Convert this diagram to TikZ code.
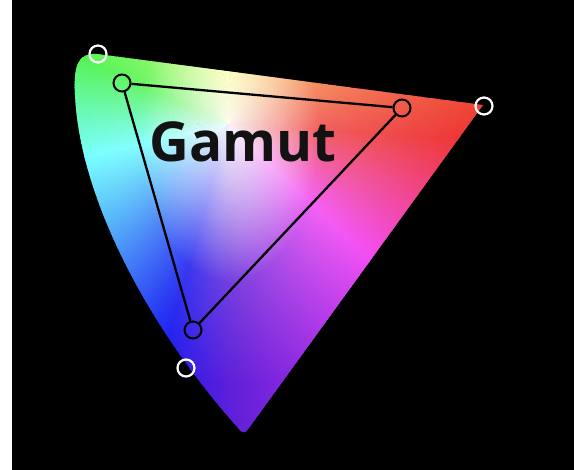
\documentclass[tikz,border=0pt]{standalone}
\usepackage{fontspec}
\newfontfamily\gamutfont{Open Sans}
\usetikzlibrary{fadings}
\tikzfading[name=glow, inner color=transparent!0, outer color=transparent!100]

\begin{document}
\begin{tikzpicture}[x=1pt,y=-1pt,
    primary/.style={circle, draw=black, line width=2pt, minimum size=17pt, inner sep=0pt},
    locus/.style={circle, draw=white, line width=2.2pt, minimum size=17pt, inner sep=0pt},
    side/.style={black, line width=2.3pt}]
  \useasboundingbox (0,0) rectangle (574,470);
  \fill[white] (0,0) rectangle (12,470);
  \fill[black] (12,0) rectangle (574,470);
  \coordinate (W) at (228,125);
  % spectral locus, filled with hues round the white point
  \begin{scope}
    \clip (97,54) -- (483,105) -- (249,428) .. controls (245,434) and (242,433) .. (239,429)
      .. controls (150,330) and (80,200) .. (75,95) .. controls (73,62) and (80,53) .. (97,54) -- cycle;
    \foreach \ai/\hi/\si/\vi/\aj/\hj/\sj/\vj in {
        -4/0/.80/.93/90/60/.72/1,
        90/60/.72/1/155/120/.75/.95,
        155/120/.75/.95/192/180/.62/1,
        192/180/.62/1/250/235/.92/.95,
        250/235/.92/.95/272/262/.85/.85,
        272/262/.85/.85/315/298/.75/.95,
        315/298/.75/.95/356/360/.80/.93}{
      \pgfmathtruncatemacro{\n}{\aj-\ai}
      \foreach \k in {0,...,\n}{
        \pgfmathsetmacro{\fr}{\k/\n}
        \pgfmathsetmacro{\ang}{\ai+\k}
        \pgfmathsetmacro{\hue}{mod(\hi+(\hj-\hi)*\fr+360,360)/360}
        \pgfmathsetmacro{\sat}{\si+(\sj-\si)*\fr}
        \pgfmathsetmacro{\val}{\vi+(\vj-\vi)*\fr}
        \definecolor{wedge}{hsb}{\hue,\sat,\val}
        \fill[wedge] (W) -- ({228+500*cos(\ang)},{125-500*sin(\ang)})
          -- ({228+500*cos(\ang+1.4)},{125-500*sin(\ang+1.4)}) -- cycle;
      }
    }
    \fill[white, path fading=glow, opacity=.35] (W) circle (260);
    \fill[white, path fading=glow, opacity=.9] (229,132) ellipse (90 and 150);
  \end{scope}
  \node[font=\gamutfont\bfseries\fontsize{55}{55}\selectfont, text=black!93] (label) at (243,142) {Gamut};
  % display primaries
  \node[primary] (green) at (122,83) {};
  \node[primary] (red) at (402,108) {};
  \node[primary] (blue) at (193,330) {};
  \draw[side] (green) -- (red) -- (blue) -- (green);
  % locus corners
  \node[locus] (lgreen) at (98,54) {};
  \node[locus] (lred) at (484,106) {};
  \node[locus] (lblue) at (186,368) {};
\end{tikzpicture}
\end{document}
